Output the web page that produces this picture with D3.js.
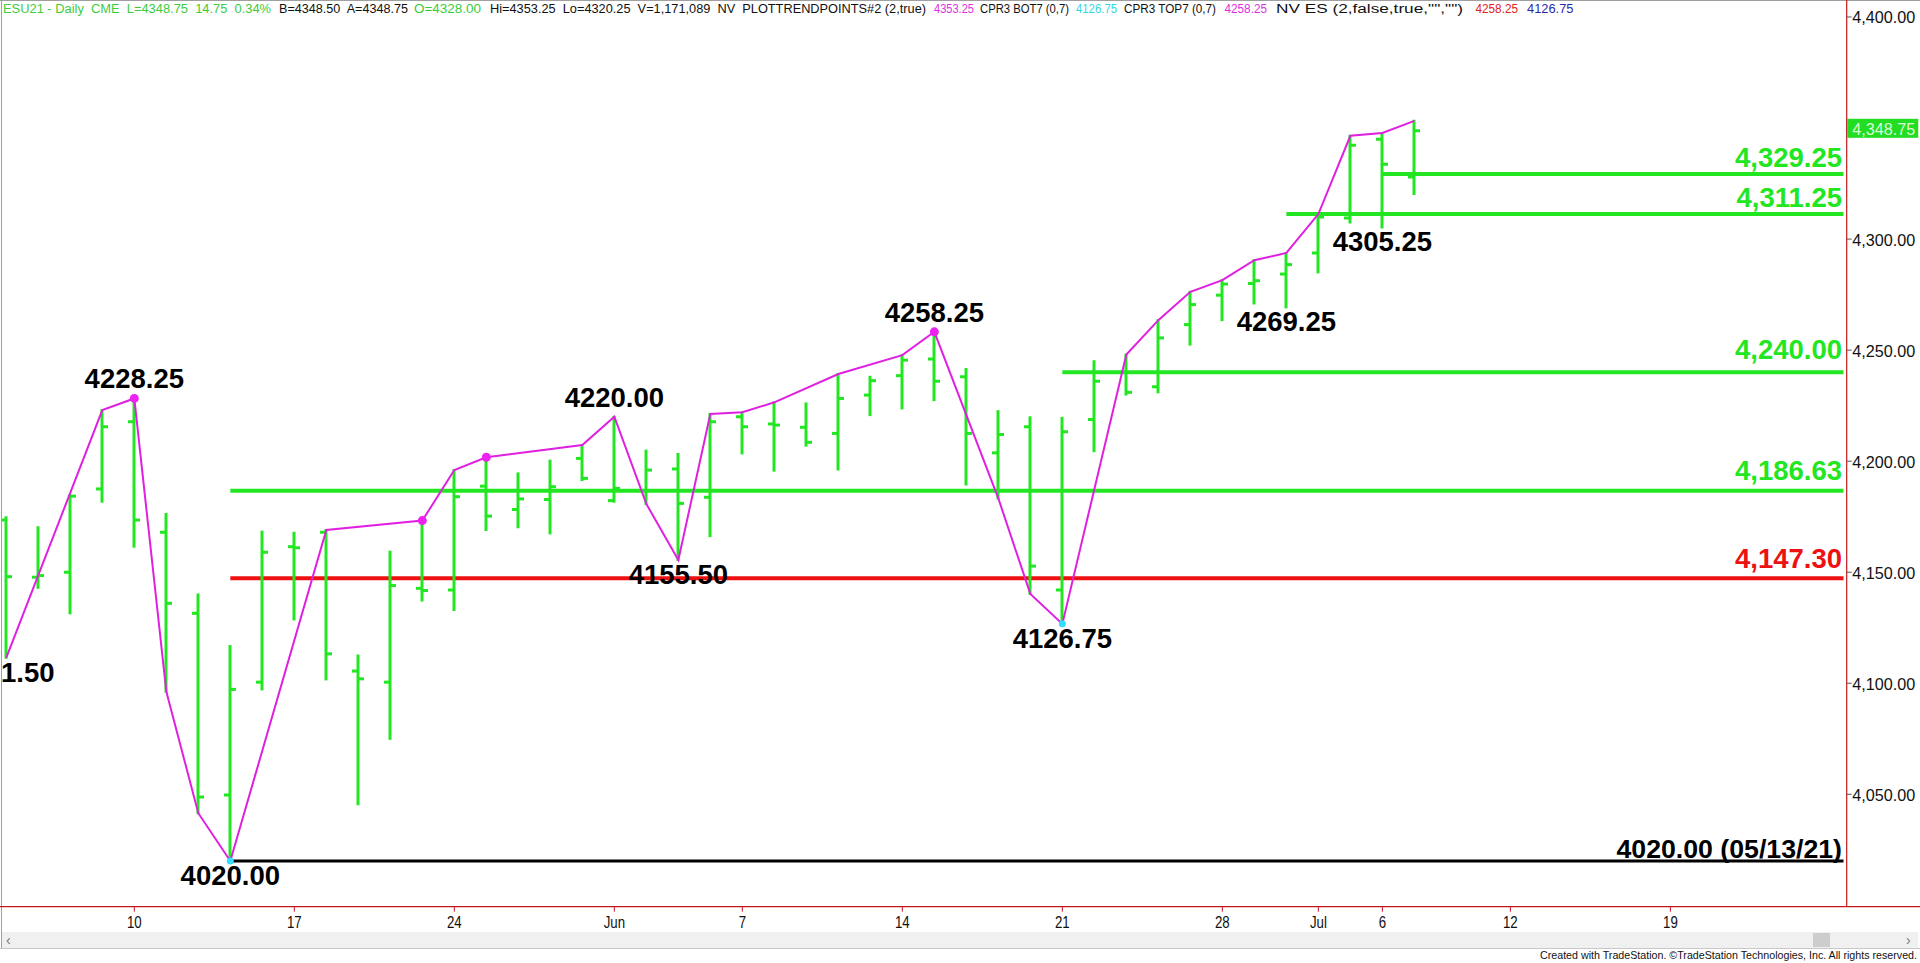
<!DOCTYPE html>
<html><head><meta charset="utf-8">
<script src="https://cdn.jsdelivr.net/npm/d3@7"></script>
<style>html,body{margin:0;padding:0;background:#fff;overflow:hidden}svg{display:block}</style>
</head><body><svg id="c" width="1920" height="963"></svg>
<script>
// ---------------- data ----------------
const dates = ["05/04","05/05","05/06","05/07","05/10","05/11","05/12","05/13","05/14","05/17","05/18","05/19","05/20","05/21","05/24","05/25","05/26","05/27","05/28","06/01","06/02","06/03","06/04","06/07","06/08","06/09","06/10","06/11","06/14","06/15","06/16","06/17","06/18","06/21","06/22","06/23","06/24","06/25","06/28","06/29","06/30","07/01","07/02","07/06","07/07"];
const opens  = [4173.5,4147.75,4150,4187.5,4217.75,4168,4131.5,4049.75,4100.5,4161.5,4168,4105.5,4100.5,4142.75,4142,4188.75,4178.25,4182.75,4201.25,4182.25,4186.75,4196.5,4183.75,4220,4216.75,4215.25,4212.5,4229.75,4238.5,4246,4238,4203.75,4215.5,4142,4218.75,4240,4233.5,4261.5,4274.75,4280,4284.25,4293.75,4309.5,4345,4328];
const highs  = [4174.75,4170.25,4184.75,4223,4228.25,4176.25,4140,4116.75,4168.25,4167.75,4169,4112.5,4159.25,4173.25,4196,4201.75,4194.5,4200.25,4207.25,4220,4204.75,4203.25,4221.25,4222,4226.5,4226,4239.25,4238,4247.75,4258.25,4241.5,4222.5,4219.75,4219.5,4245,4248,4263.5,4276.25,4281.5,4290.5,4293.75,4311.25,4346.5,4347.75,4353.25];
const lows   = [4111.5,4143,4131.5,4181.75,4161.5,4096.25,4041.5,4020,4097.25,4128.75,4101.75,4045.5,4075,4137.25,4133,4169,4170.25,4167.5,4191.5,4181.75,4180.75,4155.5,4166.25,4203.5,4195.75,4207,4196.25,4220.75,4223.75,4227.5,4189.5,4183.25,4140.25,4126.75,4204.5,4230,4231,4252.5,4263.5,4271,4269.25,4285,4307.5,4305.25,4320.25];
const closes = [4148,4148.5,4184.25,4215.5,4173.5,4136,4048.75,4097.25,4159,4161,4113.25,4102,4144,4141.75,4184,4175.25,4183,4188.5,4192.25,4187.75,4196,4181,4217.75,4215.5,4216.25,4208.5,4228.25,4236.25,4245.5,4236,4212.5,4212,4152.75,4213.25,4236,4231,4255.5,4270.5,4279.75,4281.25,4288.5,4310,4342.25,4333.75,4348.75];

// zig-zag trend points (bar index, H/L)
const pivotIdx  = [0,3,4,5,6,7,10,13,14,15,18,19,20,21,22,23,24,26,28,29,31,32,33,35,36,37,38,39,40,41,42,43,44];
const pivotType = ["L","H","H","L","L","L","H","H","H","H","H","H","L","L","H","H","H","H","H","H","L","L","L","H","H","H","H","H","H","H","H","H","H"];
const magentaDotIdx = [4,13,15,29];
const cyanDotIdx = [7,33];

// swing labels
const swingIdx  = [0,4,7,19,21,29,33,40,43];
const swingType = ["L","H","L","H","L","H","L","L","L"];
const swingText = ["4111.50","4228.25","4020.00","4220.00","4155.50","4258.25","4126.75","4269.25","4305.25"];

// horizontal levels
const levelValues = [4329.25,4311.25,4240.00,4186.63,4147.30,4020.00];
const levelStart  = [43,40,33,7,7,7];
const levelText   = ["4,329.25","4,311.25","4,240.00","4,186.63","4,147.30","4020.00 (05/13/21)"];
const levelKind   = ["g","g","g","g","r","k"];

// axes
const yTicks = [4050,4100,4150,4200,4250,4300,4350,4400];
const xTickIdx = [4,9,14,19,23,28,33,38,41,43,47,52];
const xTickLabels = ["10","17","24","Jun","7","14","21","28","Jul","6","12","19"];

const headerTexts = ["ESU21 - Daily  CME  L=4348.75  14.75  0.34%","B=4348.50  A=4348.75","O=4328.00","Hi=4353.25  Lo=4320.25  V=1,171,089  NV  PLOTTRENDPOINTS#2 (2,true)","4353.25","CPR3 BOT7 (0,7)","4126.75","CPR3 TOP7 (0,7)","4258.25","NV ES (2,false,true,\"\",\"\")","4258.25","4126.75"];
const headerColors = ["#3ccc3c","#111","#3ccc3c","#111","#e030e0","#111","#33d6e6","#111","#e030e0","#111","#dd2222","#2a2aa8"];
const lastPrice = 4348.75;

// ---------------- layout / style ----------------
const headerX = [3,279,414,490,934,980,1076,1124,1224.5,1276,1475.5,1527];
const headerW = [268,129,67,436,40,89,41,92,42.5,187,42.5,46.5];
const levelLabelOffset = [-7.5,-7.5,-13,-11,-10,-3];
const kindColor = {g:"#22e622", r:"#ee1111", k:"#000"};
const FONT = '"Liberation Sans", Arial, Helvetica, sans-serif';
const GREEN = "#22e622", MAG = "#e020e0";
const axisX = 1846.7, axisY = 906.7;

const svg = d3.select("#c");
const x = d3.scaleLinear().domain([-0.197, 57.51]).range([0, axisX]);
const y = d3.scaleLinear().domain([3999.4, 4407.65]).range([axisY, 0]);

svg.append("rect").attr("width",1920).attr("height",963).attr("fill","#fff");

// clip
svg.append("defs").append("clipPath").attr("id","pc")
  .append("rect").attr("x",2).attr("y",1).attr("width",axisX-2).attr("height",axisY-1);
const pg = svg.append("g").attr("clip-path","url(#pc)");

// levels
levelValues.forEach((v,i)=>{
  pg.append("line").attr("x1",x(levelStart[i])).attr("x2",1843.5)
    .attr("y1",y(v)).attr("y2",y(v))
    .attr("stroke",kindColor[levelKind[i]]).attr("stroke-width",levelKind[i]==="k"?3:4);
});

// OHLC bars
const bars = pg.append("g").attr("stroke",GREEN).attr("stroke-width",3);
dates.forEach((d,i)=>{
  const cx = Math.round(x(i));
  bars.append("line").attr("x1",cx).attr("x2",cx).attr("y1",y(highs[i])-1).attr("y2",y(lows[i])+1);
  bars.append("line").attr("x1",cx-6).attr("x2",cx).attr("y1",y(opens[i])).attr("y2",y(opens[i]));
  bars.append("line").attr("x1",cx).attr("x2",cx+6).attr("y1",y(closes[i])).attr("y2",y(closes[i]));
});

// zig-zag
const pts = pivotIdx.map((k,j)=>[x(k), y(pivotType[j]==="H"?highs[k]:lows[k])]);
pg.append("path").attr("d",d3.line()(pts)).attr("fill","none").attr("stroke",MAG).attr("stroke-width",2);
magentaDotIdx.forEach(k=>pg.append("circle").attr("cx",x(k)).attr("cy",y(highs[k])).attr("r",4.5).attr("fill","#ee22ee"));
cyanDotIdx.forEach(k=>pg.append("circle").attr("cx",x(k)).attr("cy",y(lows[k])).attr("r",3.5).attr("fill","#33ddff"));

// swing labels
swingIdx.forEach((k,j)=>{
  const isH = swingType[j]==="H";
  pg.append("text").attr("x",x(k)).attr("y", isH? y(highs[k])-10 : y(lows[k])+24)
    .attr("text-anchor","middle").attr("font-family",FONT).attr("font-weight","bold")
    .attr("font-size",27.5).attr("fill","#000").text(swingText[j]);
});

// level labels
levelValues.forEach((v,i)=>{
  pg.append("text").attr("x",1842).attr("y",y(v)+levelLabelOffset[i])
    .attr("text-anchor","end").attr("font-family",FONT).attr("font-weight","bold")
    .attr("font-size",levelKind[i]==="k"?26.7:27.5).attr("fill",kindColor[levelKind[i]]).text(levelText[i]);
});

// frame & axes
svg.append("line").attr("x1",0).attr("x2",1920).attr("y1",0.5).attr("y2",0.5).attr("stroke","#a0a0a0");
svg.append("line").attr("x1",1.5).attr("x2",1.5).attr("y1",0).attr("y2",948).attr("stroke","#a0a0a0");
svg.append("line").attr("x1",0).attr("x2",1920).attr("y1",axisY).attr("y2",axisY).attr("stroke","#c01818").attr("stroke-width",1.2);
svg.append("line").attr("x1",axisX).attr("x2",axisX).attr("y1",0).attr("y2",axisY).attr("stroke","#c01818").attr("stroke-width",1.2);

// y axis
yTicks.forEach(v=>{
  svg.append("line").attr("x1",axisX).attr("x2",axisX+5).attr("y1",y(v)).attr("y2",y(v)).attr("stroke","#555");
  svg.append("text").attr("x",axisX+5.5).attr("y",y(v)+6.5).attr("font-family",FONT).attr("font-size",16.5)
    .attr("textLength",63).attr("lengthAdjust","spacingAndGlyphs").attr("fill","#111").text(d3.format(",.2f")(v));
});
// last price marker
svg.append("rect").attr("x",axisX+0.5).attr("y",y(lastPrice)-12).attr("width",71).attr("height",19).attr("fill","#22dd22");
svg.append("text").attr("x",axisX+5.5).attr("y",y(lastPrice)+4).attr("font-family",FONT).attr("font-size",16)
  .attr("textLength",63).attr("lengthAdjust","spacingAndGlyphs").attr("fill","#d8ffd8").text(d3.format(",.2f")(lastPrice));

// x axis
xTickIdx.forEach((k,j)=>{
  const px = x(k);
  svg.append("line").attr("x1",px).attr("x2",px).attr("y1",axisY).attr("y2",axisY+5).attr("stroke","#c01818");
  svg.append("text").attr("transform",`translate(${px},928) scale(0.78,1)`).attr("text-anchor","middle")
    .attr("font-family",FONT).attr("font-size",17).attr("fill","#111").text(xTickLabels[j]);
});

// scrollbar
svg.append("rect").attr("x",2).attr("y",932).attr("width",1916).attr("height",16).attr("fill","#f0f0f0");
svg.append("line").attr("x1",0).attr("x2",1920).attr("y1",948.5).attr("y2",948.5).attr("stroke","#c8c8c8");
svg.append("rect").attr("x",1813).attr("y",933).attr("width",17).attr("height",14).attr("fill","#cdcdcd");
svg.append("text").attr("x",6).attr("y",945).attr("font-family",FONT).attr("font-size",14).attr("fill","#777").text("‹");
svg.append("text").attr("x",1906).attr("y",945).attr("font-family",FONT).attr("font-size",14).attr("fill","#777").text("›");
svg.append("text").attr("x",1917).attr("y",959).attr("text-anchor","end").attr("font-family",FONT).attr("font-size",11)
  .attr("textLength",377).attr("lengthAdjust","spacingAndGlyphs").attr("fill","#111")
  .text("Created with TradeStation. ©TradeStation Technologies, Inc. All rights reserved.");

// header
headerTexts.forEach((t,i)=>{
  svg.append("text").attr("x",headerX[i]).attr("y",12.5).attr("font-family",FONT).attr("font-size",12.5)
    .attr("textLength",headerW[i]).attr("lengthAdjust","spacingAndGlyphs")
    .attr("fill",headerColors[i]).style("white-space","pre").text(t);
});
</script></body></html>
